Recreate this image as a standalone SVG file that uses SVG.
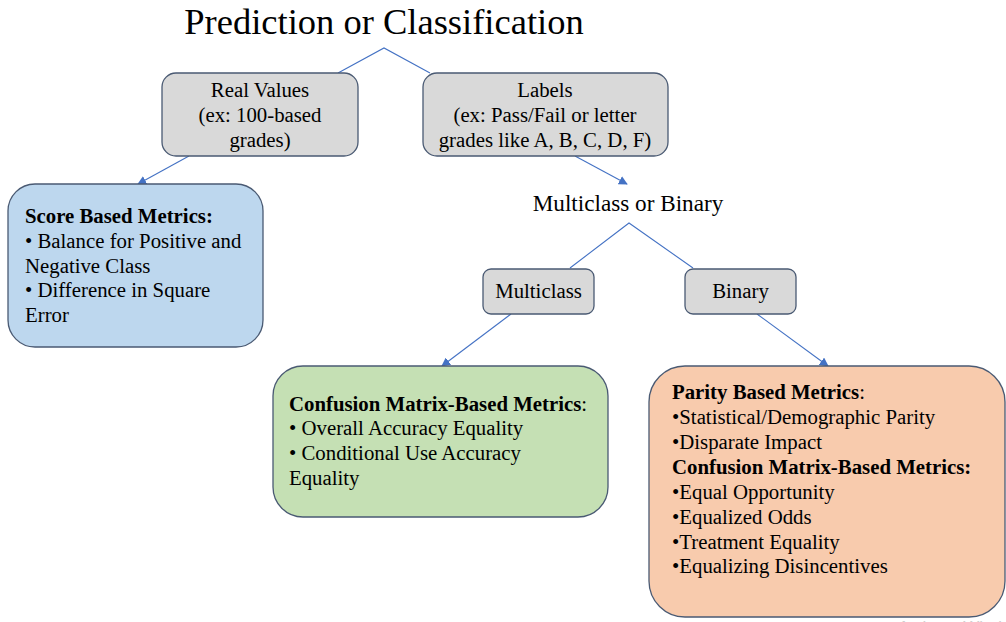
<svg xmlns="http://www.w3.org/2000/svg" width="1006" height="622" viewBox="0 0 1006 622">
<style>
  text { font-family: "Liberation Serif", "Times New Roman", serif; fill: #000; }
  .title { font-size: 36.5px; }
  .t { font-size: 20.8px; }
  .big { font-size: 23.2px; }
  .c { text-anchor: middle; }
  .b { font-weight: bold; }
  .box { stroke: #4a5a73; stroke-width: 1.3; }
  .gray { fill: #d9d9d9; }
  .blue { fill: #bdd7ee; }
  .green { fill: #c5e0b4; }
  .orange { fill: #f8cbad; }
  .conn { stroke: #4472c4; stroke-width: 1.1; fill: none; }
  .wm { font-family: "Liberation Sans", Arial, sans-serif; font-size: 17px; fill: #cfcfcf; }
</style>
<defs>
  <marker id="arr" viewBox="0 0 10 10" refX="9" refY="5" markerWidth="9" markerHeight="9" markerUnits="userSpaceOnUse" orient="auto">
    <path d="M0,0 L10,5 L0,10 Z" fill="#4472c4"/>
  </marker>
</defs>

<g id="title">
  <text class="title c" x="384" y="34">Prediction or Classification</text>
</g>

<g id="connectors">
  <polyline class="conn" points="338,73 384,48 430,73"/>
  <line class="conn" x1="189" y1="156" x2="138" y2="184" marker-end="url(#arr)"/>
  <line class="conn" x1="575" y1="156" x2="627" y2="184" marker-end="url(#arr)"/>
  <polyline class="conn" points="570,268 629,223 693,268"/>
  <line class="conn" x1="511" y1="314" x2="442" y2="366" marker-end="url(#arr)"/>
  <line class="conn" x1="757" y1="314" x2="828" y2="366" marker-end="url(#arr)"/>
</g>

<g id="real-values">
  <rect class="box gray" x="162" y="73" width="196" height="83" rx="14"/>
  <text class="t c" x="260" y="97">Real Values</text>
  <text class="t c" x="260" y="122">(ex: 100-based</text>
  <text class="t c" x="260" y="147">grades)</text>
</g>

<g id="labels">
  <rect class="box gray" x="423" y="73" width="245" height="83" rx="14"/>
  <text class="t c" x="545" y="97">Labels</text>
  <text class="t c" x="545" y="122">(ex: Pass/Fail or letter</text>
  <text class="t c" x="545" y="147">grades like A, B, C, D, F)</text>
</g>

<g id="score-based">
  <rect class="box blue" x="8" y="184" width="255" height="163" rx="27"/>
  <text class="t b" x="25" y="223">Score Based Metrics:</text>
  <text class="t" x="25" y="248">• Balance for Positive and</text>
  <text class="t" x="25" y="273">Negative Class</text>
  <text class="t" x="25" y="297">• Difference in Square</text>
  <text class="t" x="25" y="322">Error</text>
</g>

<g id="multiclass-or-binary">
  <text class="big c" x="628" y="211">Multiclass or Binary</text>
</g>

<g id="multiclass">
  <rect class="box gray" x="483" y="269" width="111" height="45" rx="8"/>
  <text class="t c" x="538.5" y="298">Multiclass</text>
</g>

<g id="binary">
  <rect class="box gray" x="685" y="269" width="111" height="45" rx="8"/>
  <text class="t c" x="740.5" y="298">Binary</text>
</g>

<g id="confusion-multiclass">
  <rect class="box green" x="273" y="366" width="335" height="151" rx="30"/>
  <text class="t" x="289" y="411"><tspan class="b">Confusion Matrix-Based Metrics</tspan>:</text>
  <text class="t" x="289" y="435">• Overall Accuracy Equality</text>
  <text class="t" x="289" y="460">• Conditional Use Accuracy</text>
  <text class="t" x="289" y="485">Equality</text>
</g>

<g id="binary-metrics">
  <rect class="box orange" x="649" y="366" width="356" height="251" rx="36"/>
  <text class="t" x="672" y="399"><tspan class="b">Parity Based Metrics</tspan>:</text>
  <text class="t" x="672" y="424">•Statistical/Demographic Parity</text>
  <text class="t" x="672" y="449">•Disparate Impact</text>
  <text class="t b" x="672" y="474">Confusion Matrix-Based Metrics:</text>
  <text class="t" x="672" y="499">•Equal Opportunity</text>
  <text class="t" x="672" y="524">•Equalized Odds</text>
  <text class="t" x="672" y="549">•Treatment Equality</text>
  <text class="t" x="672" y="573">•Equalizing Disincentives</text>
</g>

<text class="wm" x="898" y="633">Activate Windows</text>
</svg>
